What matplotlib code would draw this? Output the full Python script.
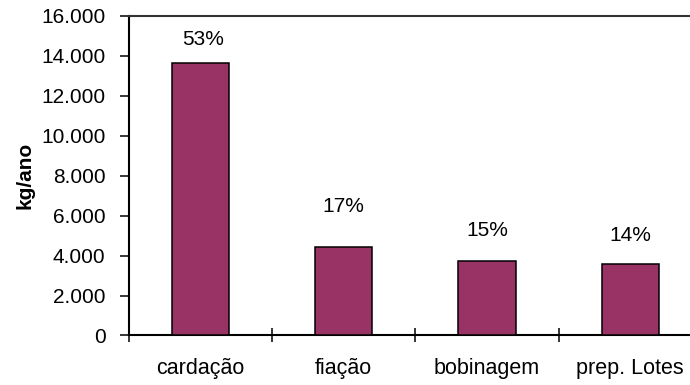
import matplotlib
matplotlib.use("Agg")
import matplotlib.pyplot as plt
from matplotlib.ticker import FuncFormatter, FixedLocator

plt.rcParams['font.family'] = ['Liberation Sans', 'DejaVu Sans']

# Annual waste per process step (kg/ano)
categories = ["cardação", "fiação", "bobinagem", "prep. Lotes"]
values = [13630, 4430, 3750, 3570]
shares = ["53%", "17%", "15%", "14%"]
y_ticks = [0, 2000, 4000, 6000, 8000, 10000, 12000, 14000, 16000]

# vertical offset (points) of each share label above its bar
label_offsets = [10, 22, 15, 14]

fig = plt.figure(figsize=(6.9, 3.85), dpi=100)
ax = fig.add_axes([0.1865, 0.1286, 0.8135, 0.8299])

x = range(len(categories))
ax.bar(x, values, width=0.4, color="#993366", edgecolor="black", linewidth=1.1, zorder=3)

for xi, v, s, off in zip(x, values, shares, label_offsets):
    ax.annotate(s, (xi, v), xytext=(2 if xi == 0 else 0, off), textcoords="offset points",
                ha="center", va="bottom", fontsize=15, color="black")

ax.set_xlim(-0.5, 3.417)
ax.set_ylim(0, 16000)

ax.yaxis.set_major_locator(FixedLocator(y_ticks))
ax.yaxis.set_major_formatter(FuncFormatter(lambda v, p: f"{int(v):,}".replace(",", ".")))
ax.tick_params(axis="y", direction="out", length=6.7, width=1.1, pad=10, labelsize=15, color="black")

ax.set_xticks(list(x))
ax.set_xticklabels(categories, fontsize=15.5)
ax.tick_params(axis="x", which="major", length=0, pad=16)
ax.xaxis.set_minor_locator(FixedLocator([-0.5, 0.5, 1.5, 2.5]))
ax.tick_params(axis="x", which="minor", direction="inout", length=9.5, width=1.1, color="black")

ax.set_ylabel("kg/ano", fontsize=15, fontweight="bold", labelpad=5)

for side in ("left", "bottom"):
    ax.spines[side].set_linewidth(1.5)
    ax.spines[side].set_color("black")
ax.spines["top"].set_linewidth(1.5)
ax.spines["top"].set_color("#333333")
ax.spines["right"].set_visible(False)

fig.savefig("out.png", dpi=100)
